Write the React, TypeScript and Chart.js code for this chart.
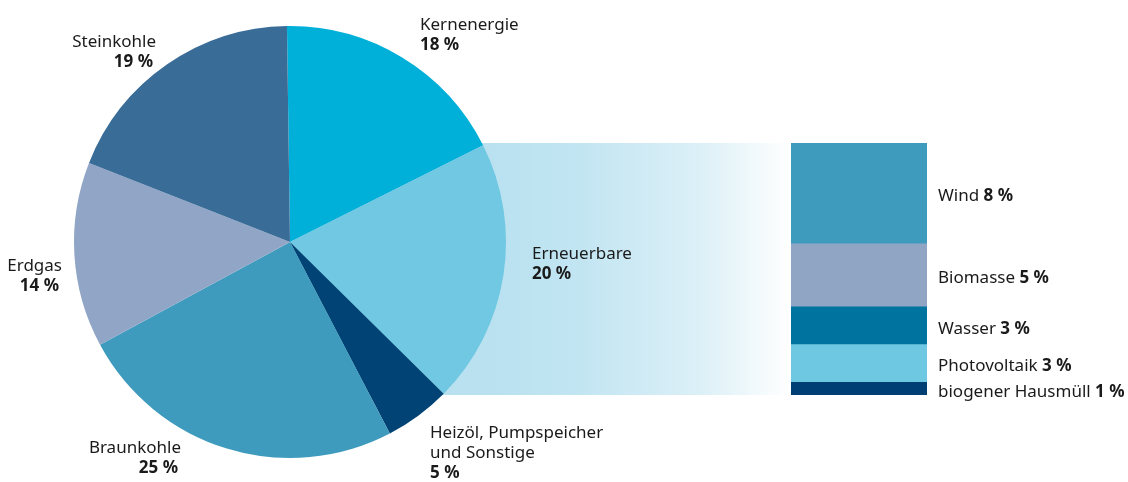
import React, { useEffect, useRef } from "react";
import { Chart, registerables } from "chart.js";

Chart.register(...registerables);

// ---- Data ----
const pieLabels = ["Kernenergie", "Erneuerbare", "Heizöl, Pumpspeicher und Sonstige", "Braunkohle", "Erdgas", "Steinkohle"];
const pieValues = [18, 20, 5, 25, 14, 19];
const pieColors = ["#00b0d9", "#70c8e2", "#004374", "#3f9bbd", "#91a6c6", "#3a6c98"];

const renewLabels = ["Wind", "Biomasse", "Wasser", "Photovoltaik", "biogener Hausmüll"];
const renewValues = [8, 5, 3, 3, 1];
const renewColors = ["#3f9bbd", "#8fa5c3", "#00739f", "#6fc8e2", "#003f74"];

// ---- Layout ----
const W = 1128;
const H = 482;
const BAR_LEFT = 791;
const BAR_RIGHT = 927;
const BAR_TOP = 143;
const BAR_BOTTOM = 395;
const FONT = '"Noto Sans", sans-serif';
const FS = 17;

// label anchors relative to pie centre: [dx, dy(first baseline), align]
const pieLabelPos: [number, number, CanvasTextAlign][] = [
  [130, -212, "left"],
  [242, 17, "left"],
  [140, 196, "left"],
  [-109, 211, "right"],
  [-228, 29, "right"],
  [-134, -195, "right"],
];
const pieLabelLines = [
  ["Kernenergie"],
  ["Erneuerbare"],
  ["Heizöl, Pumpspeicher", "und Sonstige"],
  ["Braunkohle"],
  ["Erdgas"],
  ["Steinkohle"],
];

export default function App() {
  const pieRef = useRef<HTMLCanvasElement>(null);
  const barRef = useRef<HTMLCanvasElement>(null);

  useEffect(() => {
    const bandPlugin = {
      id: "band",
      beforeDatasetsDraw(chart: any) {
        const ctx = chart.ctx;
        const arc = chart.getDatasetMeta(0).data[0];
        const cx = arc.x;
        ctx.save();
        const g = ctx.createLinearGradient(cx + 200, 0, BAR_LEFT, 0);
        g.addColorStop(0, "#b9e1f0");
        g.addColorStop(0.3, "#c2e5f2");
        g.addColorStop(0.7, "#dcf0f7");
        g.addColorStop(1, "#ffffff");
        ctx.fillStyle = g;
        ctx.fillRect(cx, BAR_TOP, BAR_LEFT - cx, BAR_BOTTOM - BAR_TOP);
        ctx.restore();
      },
      afterDatasetsDraw(chart: any) {
        const ctx = chart.ctx;
        const arc = chart.getDatasetMeta(0).data[0];
        const cx = arc.x;
        const cy = arc.y;
        ctx.save();
        ctx.fillStyle = "#1a1a1a";
        ctx.textBaseline = "alphabetic";
        pieValues.forEach((v, i) => {
          const [dx, dy, align] = pieLabelPos[i];
          ctx.textAlign = align;
          const lines = pieLabelLines[i];
          let y = cy + dy;
          ctx.font = `${FS}px ${FONT}`;
          lines.forEach((l) => {
            ctx.fillText(l, cx + dx, y);
            y += 20;
          });
          ctx.font = `bold ${FS}px ${FONT}`;
          ctx.fillText(`${v} %`, cx + dx + (align === "right" ? -3 : 0), y);
        });
        ctx.restore();
      },
    };

    const pie = new Chart(pieRef.current!, {
      type: "pie",
      data: {
        labels: pieLabels,
        datasets: [
          {
            data: pieValues,
            backgroundColor: pieColors,
            borderWidth: 0,
          },
        ],
      },
      options: {
        responsive: false,
        animation: false,
        rotation: -0.8,
        layout: { padding: { left: 74, right: W - 506, top: 26, bottom: H - 458 } },
        plugins: { legend: { display: false }, tooltip: { enabled: false } },
      },
      plugins: [bandPlugin],
    });

    const labelPlugin = {
      id: "barLabels",
      afterDatasetsDraw(chart: any) {
        const ctx = chart.ctx;
        ctx.save();
        ctx.fillStyle = "#1a1a1a";
        ctx.textBaseline = "middle";
        ctx.textAlign = "left";
        const x = chart.chartArea.right + 11;
        chart.data.datasets.forEach((ds: any, i: number) => {
          const el = chart.getDatasetMeta(i).data[0];
          const yc = (el.y + el.base) / 2 + 3;
          ctx.font = `${FS}px ${FONT}`;
          const name = ds.label + " ";
          ctx.fillText(name, x, yc);
          const w = ctx.measureText(name).width;
          ctx.font = `bold ${FS}px ${FONT}`;
          ctx.fillText(`${ds.data[0]} %`, x + w, yc);
        });
        ctx.restore();
      },
    };

    const barTop = BAR_TOP - 10;
    const bar = new Chart(barRef.current!, {
      type: "bar",
      data: {
        labels: ["Erneuerbare"],
        datasets: renewLabels
          .map((l, i) => ({
            label: l,
            data: [renewValues[i]],
            backgroundColor: renewColors[i],
            borderWidth: 0,
            barPercentage: 1,
            categoryPercentage: 1,
          }))
          .reverse(),
      },
      options: {
        responsive: false,
        animation: false,
        layout: { padding: { left: 0, right: W - BAR_RIGHT, top: BAR_TOP - barTop, bottom: 12 } },
        scales: {
          x: { stacked: true, display: false },
          y: { stacked: true, display: false, min: 0, max: 20 },
        },
        plugins: { legend: { display: false }, tooltip: { enabled: false } },
      },
      plugins: [labelPlugin],
    });

    return () => {
      pie.destroy();
      bar.destroy();
    };
  }, []);

  const barTop = BAR_TOP - 10;
  return (
    <div style={{ position: "fixed", left: 0, top: 0, width: W, height: H, background: "#fff" }}>
      <canvas ref={pieRef} width={W} height={H} style={{ position: "absolute", left: 0, top: 0 }} />
      <canvas
        ref={barRef}
        width={W - BAR_LEFT}
        height={BAR_BOTTOM - barTop + 12}
        style={{ position: "absolute", left: BAR_LEFT, top: barTop }}
      />
    </div>
  );
}
